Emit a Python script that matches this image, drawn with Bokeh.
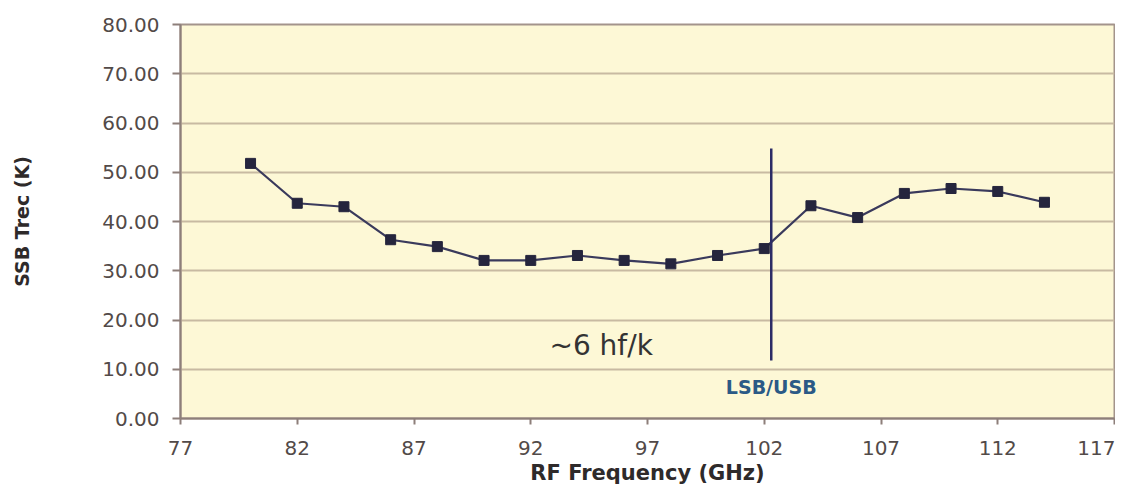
from bokeh.plotting import figure
from bokeh.models import FixedTicker, NumeralTickFormatter, Range1d, ColumnDataSource
from bokeh.core.properties import value
from bokeh.embed import file_html
from bokeh.resources import INLINE

# data
freq_ghz = [80, 82, 84, 86, 88, 90, 92, 94, 96, 98, 100, 102, 104, 106, 108, 110, 112, 114]
trec_k = [51.8, 43.7, 43.0, 36.3, 34.9, 32.1, 32.1, 33.1, 32.1, 31.4, 33.1, 34.5,
          43.2, 40.8, 45.7, 46.7, 46.1, 43.9]
x_ticks = [77, 82, 87, 92, 97, 102, 107, 112, 117]
y_ticks = [0, 10, 20, 30, 40, 50, 60, 70, 80]

lsb_x = [102.3]
lsb_y0 = [11.8]
lsb_y1 = [54.8]

note_x = [92.8]
note_y = [14.8]
note_text = ["~6 hf/k"]

lsb_label_x = [102.3]
lsb_label_y = [6.3]
lsb_label_text = ["LSB/USB"]

FONT = "DejaVu Sans"
TICK_COL = "#524a48"

p = figure(width=1115, height=489, output_backend="svg", toolbar_location=None,
           x_range=Range1d(77, 117), y_range=Range1d(0, 80),
           min_border_left=180, min_border_right=1, min_border_top=24,
           min_border_bottom=71)

p.background_fill_color = "#fdf8d6"
p.border_fill_color = "white"
p.outline_line_color = "#a3948c"
p.outline_line_width = 2

p.xgrid.visible = False
p.ygrid.grid_line_color = "#c8baa2"
p.ygrid.grid_line_width = 2

p.xaxis.ticker = FixedTicker(ticks=x_ticks)
p.yaxis.ticker = FixedTicker(ticks=y_ticks)
p.yaxis.formatter = NumeralTickFormatter(format="0.00")

for ax in (p.xaxis[0], p.yaxis[0]):
    ax.axis_line_color = "#8d7f7a"
    ax.axis_line_width = 2
    ax.major_tick_line_color = "#8d7f7a"
    ax.major_tick_line_width = 2
    ax.minor_tick_line_color = None
    ax.major_tick_in = 0
    ax.major_label_text_font = FONT
    ax.major_label_text_font_size = "20px"
    ax.major_label_text_color = TICK_COL
    ax.axis_label_text_font = FONT
    ax.axis_label_text_font_style = "bold"
    ax.axis_label_text_color = "#2e2a2a"

p.yaxis.major_tick_out = 8
p.yaxis.major_label_standoff = 13
p.yaxis.axis_label = "SSB Trec (K)"
p.yaxis.axis_label_text_font_size = "19px"
p.yaxis.axis_label_standoff = 66

p.xaxis.major_tick_out = 6
p.xaxis.major_label_standoff = 16
p.xaxis.axis_label = "RF Frequency (GHz)"
p.xaxis.axis_label_text_font_size = "21px"
p.xaxis.axis_label_standoff = 3

src = ColumnDataSource(dict(x=freq_ghz, y=trec_k))
p.line("x", "y", source=src, line_color="#3a3a5c", line_width=2.2)
p.scatter("x", "y", source=src, marker="square", size=10,
          fill_color="#25253d", line_color="#25253d")

p.segment(x0=lsb_x, y0=lsb_y0, x1=lsb_x, y1=lsb_y1, line_color="#2c2c66", line_width=2.5)

p.text(x=note_x, y=note_y, text=note_text, text_font=value(FONT),
       text_font_size="28px", text_color="#333333", text_align="left",
       text_baseline="middle")

p.text(x=lsb_label_x, y=lsb_label_y, text=lsb_label_text, text_font=value(FONT),
       text_font_size="19px", text_font_style="bold", text_color="#2b5a86",
       text_align="center", text_baseline="middle")

open("out.html", "w").write(file_html(p, INLINE))
